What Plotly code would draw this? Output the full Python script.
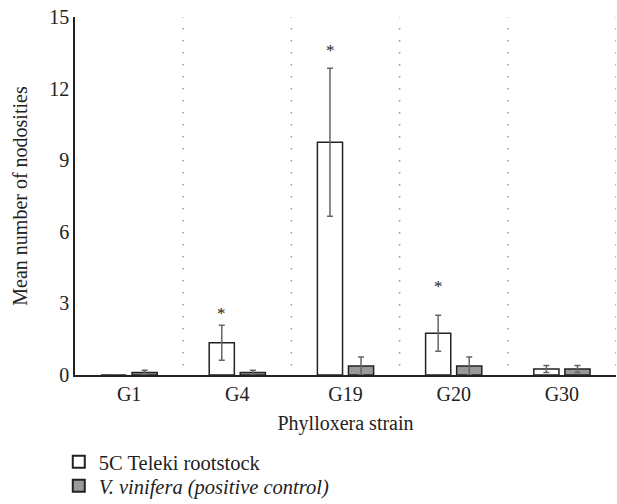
import plotly.graph_objects as go

strains = ["G1", "G4", "G19", "G20", "G30"]
teleki = [0.0, 1.35, 9.75, 1.75, 0.25]
teleki_err = [0.0, 0.73, 3.1, 0.75, 0.15]
vinifera = [0.1, 0.1, 0.38, 0.38, 0.25]
vinifera_err = [0.1, 0.1, 0.37, 0.37, 0.15]
star_strains = ["G4", "G19", "G20"]
star_heights = [2.65, 13.7, 3.8]
y_ticks = [0, 3, 6, 9, 12, 15]

FONT = "Liberation Serif"
INK = "#222222"
fig = go.Figure()
fig.add_trace(go.Bar(
    x=strains, y=teleki, name="5C Teleki rootstock",
    marker=dict(color="white", line=dict(color=INK, width=1.5)),
    error_y=dict(type="data", array=teleki_err, color="#666666", thickness=1.5, width=3),
    legend="legend", showlegend=True,
))
fig.add_trace(go.Bar(
    x=strains, y=vinifera, name="<i>V. vinifera (positive control)</i>",
    marker=dict(color="#999999", line=dict(color=INK, width=1.5)),
    error_y=dict(type="data", array=vinifera_err, color="#666666", thickness=1.5, width=3),
    legend="legend2", showlegend=True,
))

for s, h in zip(star_strains, star_heights):
    fig.add_annotation(x=s, y=h, xref="x", yref="y", text="*", showarrow=False,
                       xshift=-15.5, yshift=-2, font=dict(family=FONT, size=17, color=INK))

for i in range(len(strains)):
    fig.add_shape(type="line", xref="x", yref="y", x0=i + 0.5, x1=i + 0.5, y0=0.4, y1=15,
                  line=dict(color="#9a9a9a", width=1.5, dash="1.5px,10.5px"))

leg_common = dict(xanchor="left", yanchor="middle", bgcolor="rgba(0,0,0,0)",
                  font=dict(family=FONT, size=20.5, color=INK), itemsizing="constant",
                  borderwidth=0)

fig.update_layout(
    width=617, height=504, showlegend=True,
    margin=dict(l=75, r=1, t=17, b=129, autoexpand=False),
    plot_bgcolor="white", paper_bgcolor="white",
    barmode="group", bargap=0.426, bargroupgap=0.19,
    font=dict(family=FONT, size=20, color=INK),
    xaxis=dict(
        title=dict(text="Phylloxera strain", font=dict(family=FONT, size=20, color=INK), standoff=12),
        showline=True, linecolor=INK, linewidth=1.5, ticks="", automargin=False,
        range=[-0.5, 4.5], tickfont=dict(family=FONT, size=20, color=INK),
    ),
    yaxis=dict(
        title=dict(text="Mean number of nodosities", font=dict(family=FONT, size=20, color=INK), standoff=16),
        range=[0, 15], tickvals=y_ticks, showgrid=False, zeroline=False, automargin=False,
        showline=True, linecolor=INK, linewidth=1.5, ticks="",
        tickfont=dict(family=FONT, size=20, color=INK),
    ),
    legend=dict(x=-0.03, y=-0.243, **leg_common),
    legend2=dict(x=-0.03, y=-0.31, **leg_common),
)
fig.write_html("out.html", post_script="document.body.style.margin='0px';",
               config={"displayModeBar": False})
